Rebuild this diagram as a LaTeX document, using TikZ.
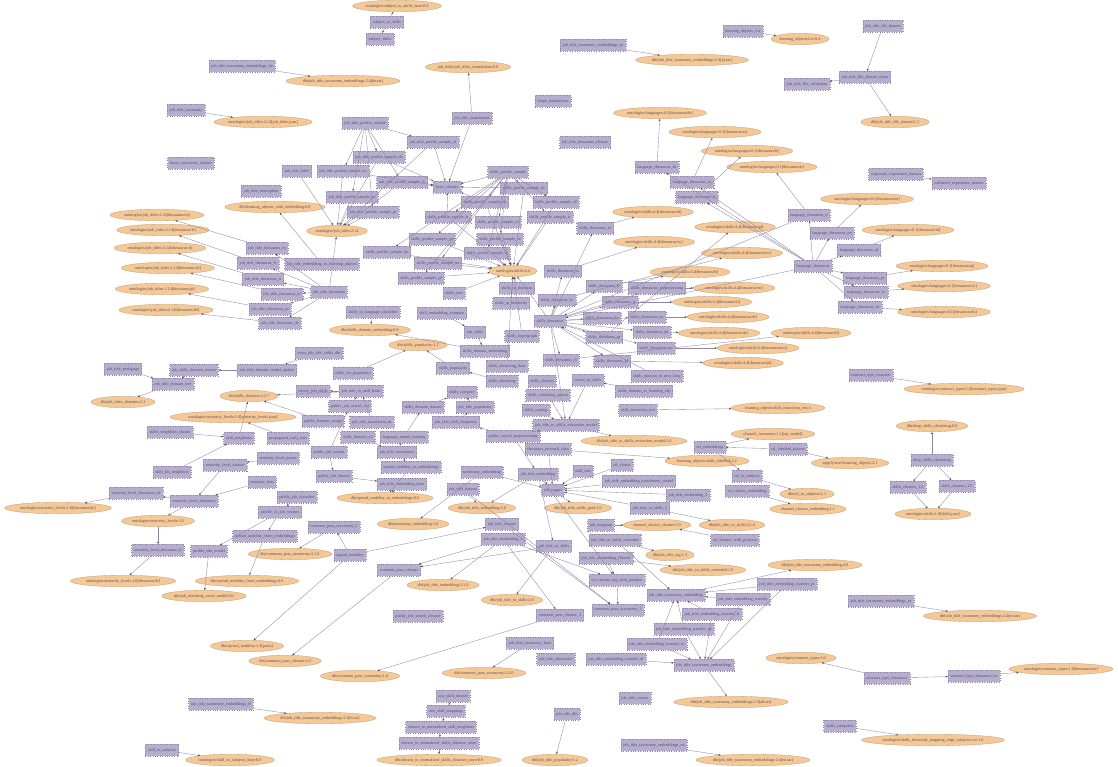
\documentclass[tikz,border=0pt]{standalone}
\usepackage{fontspec}
\setmainfont{Liberation Serif}
\usetikzlibrary{shapes.geometric,arrows.meta}
\definecolor{boxfill}{RGB}{181,174,207}
\definecolor{boxline}{RGB}{135,130,160}
\definecolor{elfill}{RGB}{245,200,150}
\definecolor{elline}{RGB}{185,155,120}
\definecolor{txt}{RGB}{85,80,95}
\definecolor{edgec}{RGB}{140,134,165}
\tikzset{
 bx/.style={rectangle,draw=boxline,dotted,line width=0.4pt,fill=boxfill,minimum height=11.5pt,inner xsep=2.4pt,inner ysep=0.5pt,text=txt,font=\fontsize{4.2}{5}\selectfont},
 el/.style={ellipse,draw=elline,line width=0.3pt,fill=elfill,minimum height=11.5pt,inner xsep=0pt,inner ysep=0pt,text=txt,font=\fontsize{4.2}{5}\selectfont},
 ed/.style={draw=edgec,line width=0.35pt,-{Stealth[length=2.4pt,width=1.9pt,color=black!70]}}
}
\begin{document}
\begin{tikzpicture}[x=1pt,y=-1pt]
\fill[white] (0,0) rectangle (1118,766);
\useasboundingbox (0,0) rectangle (1118,766);
% ---------- top ----------
\node[el] (esubjbase) at (397,6) {ontologies/subject\_to\_skills\_base:0.0};
\node[bx] (bsubjto) at (387,22) {subject\_to\_skills};
\node[bx] (bsubjsk) at (380,39) {subject\_skills};
\node[bx] (blobcsv) at (743,31) {learning\_objects\_csv};
\node[el] (elobcsv) at (800,39) {learning\_objects/csv:0.4};
\node[bx] (bjtfds) at (883,26) {job\_title\_file\_dataset};
\node[bx] (bjtfdc) at (865,77) {job\_title\_file\_dataset\_clean};
\node[bx] (bjtfval) at (807,84) {job\_title\_file\_validation};
\node[el] (ejtfds) at (895,122) {dbt/job\_title\_file\_dataset:1.1};
\node[bx] (btepde) at (242,66) {job\_title\_taxonomy\_embeddings\_de};
\node[el] (etepde) at (343,81) {dbt/job\_title\_taxonomy\_embeddings:2.4[de.tar]};
\node[bx] (bteppt) at (593,45) {job\_title\_taxonomy\_embeddings\_pt};
\node[el] (eteppt) at (692,60) {dbt/job\_title\_taxonomy\_embeddings:2.4[pt.tar]};
\node[bx] (bjttrans) at (472,118) {job\_title\_translations};
\node[el] (ejttrans) at (468,67) {job\_titles/job\_titles\_translations:0.0};
\node[bx] (bjttax) at (186,110) {job\_title\_taxonomy};
\node[el] (ejtjson) at (263,122) {ontologies/job\_titles:2.14[job\_titles.json]};
\node[bx] (bshape) at (553,101) {shape\_translations};
\node[bx] (bjtthcl) at (585,142) {job\_title\_thesaurus\_cleaner};
\node[bx] (bbsyn) at (191,163) {basic\_synonyms\_cleaner};
\node[bx] (bjtlabel) at (297,171) {job\_title\_label};
\node[bx] (bjtdesc) at (261,191) {job\_title\_description};
\node[el] (elowe) at (275,207) {dbt/learning\_objects\_with\_embedding:0.0};
% job title profile samples
\node[bx] (bjps) at (365,123) {job\_title\_profile\_sample};
\node[bx] (bjpsa) at (433,142) {job\_title\_profile\_sample\_nl};
\node[bx] (bjpsb) at (379,157) {job\_title\_profile\_sample\_de};
\node[bx] (bjpsc) at (343,171) {job\_title\_profile\_sample\_en};
\node[bx] (bjpsd) at (402,182) {job\_title\_profile\_sample\_fr};
\node[bx] (bbasic) at (447,187) {basic\_cleaner};
\node[bx] (bjpse) at (352,197) {job\_title\_profile\_sample\_es};
\node[bx] (bjpsf) at (373,212) {job\_title\_profile\_sample\_pt};
\node[el] (ejt) at (337,231) {ontologies/job\_titles:2.14};
% skills profile samples
\node[bx] (bsps) at (508,172) {skills\_profile\_sample};
\node[bx] (bspsa) at (524,188) {skills\_profile\_sample\_de};
\node[bx] (bspsb) at (485,202) {skills\_profile\_sample\_en};
\node[bx] (bspsc) at (556,202) {skills\_profile\_sample\_nl};
\node[bx] (bspsd) at (448,217) {skills\_profile\_sample\_fr};
\node[bx] (bspse) at (498,222) {skills\_profile\_sample\_es};
\node[bx] (bspsf) at (550,217) {skills\_profile\_sample\_it};
\node[bx] (bspsg) at (432,239) {skills\_profile\_sample\_pt};
\node[bx] (bspsh) at (500,239) {skills\_profile\_sample\_sv};
\node[bx] (bspsi) at (387,252) {skills\_profile\_sample\_da};
\node[bx] (bspsj) at (487,253) {skills\_profile\_sample\_fi};
\node[bx] (bspsk) at (438,263) {skills\_profile\_sample\_no};
\node[bx] (bspsl) at (421,278) {skills\_profile\_sample\_pl};
\node[el] (esk) at (513,271) {ontologies/skills:4.4};
\node[bx] (bska) at (517,288) {skills\_to\_domains};
\node[bx] (bskb) at (511,303) {skills\_to\_hierarchy};
\node[bx] (bsktree) at (454,293) {skills\_tree};
% skills thesaurus
\node[bx] (bskth) at (550,321) {skills\_thesaurus};
\node[bx] (Ba) at (595,228) {skills\_thesaurus\_nl};
\node[bx] (Bb) at (563,271) {skills\_thesaurus\_es};
\node[bx] (Bc) at (604,286) {skills\_thesaurus\_fr};
\node[bx] (Bd) at (657,288) {skills\_thesaurus\_preprocessing};
\node[bx] (Be) at (620,302) {skills\_thesaurus\_it};
\node[bx] (Bf) at (557,300) {skills\_thesaurus\_sv};
\node[bx] (Bg) at (602,318) {skills\_thesaurus\_de};
\node[bx] (Bh) at (647,317) {skills\_thesaurus\_en};
\node[bx] (Bi) at (652,332) {skills\_thesaurus\_da};
\node[bx] (Bj) at (604,337) {skills\_thesaurus\_pt};
\node[bx] (Bk) at (656,348) {skills\_thesaurus\_no};
\node[bx] (Bl) at (612,361) {skills\_thesaurus\_pl};
\node[bx] (Bm) at (561,360) {skills\_thesaurus\_fi};
\node[el] (Ea) at (653,212) {ontologies/skills:4.4[thesaurus/nl]};
\node[el] (Eb) at (735,227) {ontologies/skills:4.4[thesaurus/pt]};
\node[el] (Ec) at (654,242) {ontologies/skills:4.4[thesaurus/es]};
\node[el] (Ed) at (742,253) {ontologies/skills:4.4[thesaurus/sv]};
\node[el] (Ee) at (690,272) {ontologies/skills:4.4[thesaurus/fr]};
\node[el] (Ef) at (734,288) {ontologies/skills:4.4[thesaurus/en]};
\node[el] (Eg) at (712,302) {ontologies/skills:4.4[thesaurus/it]};
\node[el] (Eh) at (728,317) {ontologies/skills:4.4[thesaurus/de]};
\node[el] (Ei) at (719,333) {ontologies/skills:4.4[thesaurus/da]};
\node[el] (Ej) at (811,333) {ontologies/skills:4.4[thesaurus/fi]};
\node[el] (Ek) at (758,348) {ontologies/skills:4.4[thesaurus/no]};
\node[el] (El) at (743,363) {ontologies/skills:4.4[thesaurus/pl]};
% languages
\node[bx] (LH) at (813,266) {language\_thesaurus};
\node[bx] (LBa) at (657,167) {language\_thesaurus\_de};
\node[bx] (LBb) at (692,182) {language\_thesaurus\_es};
\node[bx] (LBc) at (697,197) {language\_thesaurus\_fr};
\node[bx] (LBd) at (809,215) {language\_thesaurus\_it};
\node[bx] (LBe) at (832,233) {language\_thesaurus\_en};
\node[bx] (LBf) at (859,250) {language\_thesaurus\_nl};
\node[bx] (LBg) at (865,278) {language\_thesaurus\_pt};
\node[bx] (LBh) at (866,292) {language\_thesaurus\_sv};
\node[bx] (LBi) at (860,307) {language\_thesaurus\_da};
\node[el] (LEa) at (660,113) {ontologies/languages:0.1[thesaurus/de]};
\node[el] (LEb) at (715,132) {ontologies/languages:0.1[thesaurus/es]};
\node[el] (LEc) at (747,151) {ontologies/languages:0.1[thesaurus/fr]};
\node[el] (LEd) at (772,167) {ontologies/languages:0.1[thesaurus/it]};
\node[el] (LEe) at (867,199) {ontologies/languages:0.1[thesaurus/en]};
\node[el] (LEf) at (908,230) {ontologies/languages:0.1[thesaurus/nl]};
\node[el] (LEg) at (942,266) {ontologies/languages:0.1[thesaurus/pt]};
\node[el] (LEh) at (944,286) {ontologies/languages:0.1[thesaurus/sv]};
\node[el] (LEi) at (944,312) {ontologies/languages:0.1[thesaurus/da]};
\node[bx] (bcexp) at (896,174) {corporate\_experience\_dataset};
\node[bx] (bvexp) at (959,183) {validated\_experience\_dataset};
% job title thesaurus
\node[bx] (bjtel) at (322,264) {job\_title\_embedding\_to\_learning\_objects};
\node[bx] (bjtth) at (329,292) {job\_title\_thesaurus};
\node[bx] (Ta) at (267,248) {job\_title\_thesaurus\_es};
\node[bx] (Tb) at (258,263) {job\_title\_thesaurus\_fr};
\node[bx] (Tc) at (263,279) {job\_title\_thesaurus\_it};
\node[bx] (Td) at (282,294) {job\_title\_thesaurus\_nl};
\node[bx] (Te) at (270,309) {job\_title\_thesaurus\_pt};
\node[bx] (Tf) at (280,323) {job\_title\_thesaurus\_de};
\node[el] (Ja) at (157,215) {ontologies/job\_titles:2.14[thesaurus/es]};
\node[el] (Jb) at (163,230) {ontologies/job\_titles:2.14[thesaurus/fr]};
\node[el] (Jc) at (160,248) {ontologies/job\_titles:2.14[thesaurus/it]};
\node[el] (Jd) at (168,268) {ontologies/job\_titles:2.14[thesaurus/nl]};
\node[el] (Je) at (162,289) {ontologies/job\_titles:2.14[thesaurus/pt]};
\node[el] (Jf) at (166,310) {ontologies/job\_titles:2.14[thesaurus/de]};
% centre
\node[bx] (bslc) at (373,312) {skills\_to\_language\_classifier};
\node[bx] (bsec) at (442,313) {skill\_embedding\_compute};
\node[el] (esde) at (370,330) {dbt/skills\_domain\_embedding:0.0};
\node[el] (espop) at (418,345) {dbt/skills\_popularity:1.1};
\node[bx] (bjobsk) at (475,332) {job\_skills};
\node[bx] (bskhg) at (522,336) {skills\_hypergraph};
\node[bx] (bsdemb) at (485,351) {skills\_domain\_embedding};
\node[bx] (bxjts) at (319,353) {extra\_job\_title\_skills\_dbt};
\node[bx] (bsfp) at (353,373) {skills\_for\_popularity};
\node[bx] (bspop) at (453,368) {skills\_popularity};
\node[bx] (bscla) at (507,366) {skills\_clustering\_base};
\node[bx] (bscl) at (502,381) {skills\_clustering};
\node[bx] (bsclb) at (542,381) {skills\_clusters};
\node[bx] (btjs) at (313,391) {theory\_job\_skills};
\node[bx] (bjtsl) at (361,391) {job\_title\_to\_skill\_links};
\node[bx] (bscat) at (462,392) {skills\_category};
\node[bx] (bsclc) at (548,395) {skills\_clustering\_parent};
\node[bx] (bpjsv) at (350,406) {public\_job\_search\_val};
\node[bx] (bsdd) at (423,407) {skills\_domain\_dataset};
\node[bx] (bjtpop) at (475,407) {job\_title\_popularity};
\node[bx] (bscatl) at (536,410) {skills\_catalog};
\node[bx] (bplu) at (323,421) {public\_learners\_usage};
\node[bx] (bjttdc) at (372,422) {job\_title\_translation\_dc};
\node[bx] (bjtsf) at (456,422) {job\_title\_skill\_frequency};
\node[bx] (bpee) at (288,438) {propagated\_early\_exit};
\node[bx] (bsdv) at (358,437) {skills\_domain\_v2};
\node[bx] (blmt) at (404,437) {language\_model\_training};
\node[bx] (bpsp) at (513,436) {public\_search\_preprocessing};
\node[bx] (bpjs) at (329,452) {public\_job\_search};
\node[bx] (bjtn) at (397,452) {job\_title\_normalizer};
\node[bx] (bthp) at (548,449) {thesaurus\_personal\_data};
\node[bx] (bsmte) at (411,467) {spread\_mobility\_to\_embeddings};
\node[bx] (bpjd) at (334,476) {public\_job\_dataset};
\node[bx] (btaxemb) at (482,472) {taxonomy\_embedding};
\node[bx] (bjtemb) at (538,474) {job\_title\_embedding};
\node[bx] (bjteb) at (402,484) {job\_title\_embedding\_base};
\node[bx] (bjtds) at (463,489) {job\_title\_dataset};
\node[bx] (bpjc) at (297,497) {public\_job\_classifier};
\node[el] (esmte) at (385,498) {dbt/spread\_mobility\_to\_embeddings:0.0};
\node[el] (ejte) at (482,508) {dbt/job\_title\_embedding:2.0};
% right middle
\node[bx] (bcts) at (588,380) {career\_to\_skills};
\node[bx] (bstnl) at (657,376) {skills\_domain\_to\_new\_lang};
\node[bx] (bstlo) at (644,391) {skills\_domain\_to\_learning\_obj};
\node[bx] (bske) at (638,410) {skill\_extraction\_test};
\node[el] (eske) at (778,408) {learning\_objects/skill\_extraction\_test:1};
\node[bx] (bjtsem) at (566,425) {job\_title\_to\_skills\_extraction\_model};
\node[el] (ejtsem) at (634,441) {dbt/job\_title\_to\_skills\_extraction\_model:1.0};
\node[bx] (bsslemb) at (710,447) {ssl\_embeddings};
\node[el] (echtax) at (773,434) {channel\_taxonomy:1.1[top\_model]};
\node[bx] (bssllab) at (788,449) {ssl\_labelled\_dataset};
\node[el] (elsl) at (707,461) {learning\_objects/skills\_labelled:2.2};
\node[el] (esupply) at (850,463) {supply/user/learning\_objects:2.1};
\node[bx] (bsslcl) at (622,465) {ssl\_cluster};
\node[bx] (bskhub) at (583,471) {skill\_hub};
\node[bx] (bsslsub) at (747,476) {ssl\_to\_subjects};
\node[bx] (bjteem) at (639,481) {job\_title\_embedding\_enrichment\_model};
\node[bx] (bjobtag) at (553,490) {job\_tagger};
\node[bx] (bjtex) at (688,495) {job\_title\_embedding\_2};
\node[bx] (bsslce) at (747,491) {ssl\_classes\_embedding};
\node[el] (esslsub) at (807,494) {dbt/ssl\_to\_subjects:1.1};
\node[el] (esslce) at (808,509) {channel\_classes\_embedding:1.1};
\node[bx] (bjtsx) at (650,508) {job\_title\_to\_skills\_2};
\node[el] (epool) at (578,508) {dbt/job\_title\_skills\_pool:1.0};
% left middle
\node[bx] (bjtped) at (123,369) {job\_title\_pedagogy};
\node[bx] (bjsds) at (194,370) {job\_skills\_domain\_source};
\node[bx] (bjtdmu) at (267,370) {job\_title\_domain\_model\_update};
\node[bx] (bjtdt) at (173,384) {job\_title\_domain\_tree};
\node[el] (ejtdom) at (123,402) {dbt/job\_titles\_domains:2.3};
\node[el] (esdist) at (249,396) {dbt/skills\_distance:2.2.7};
\node[el] (esenjson) at (233,417) {ontologies/seniority\_levels:1.0[seniority\_levels.json]};
\node[bx] (bsnc) at (170,432) {skills\_neighbors\_cluster};
\node[bx] (bsn) at (239,438) {skill\_neighbors};
\node[bx] (bslp) at (278,458) {seniority\_level\_parser};
\node[bx] (bsld) at (225,465) {seniority\_level\_dataset};
\node[bx] (bsln) at (172,472) {skill\_list\_neighbors};
\node[bx] (bsend) at (262,482) {seniority\_data};
\node[bx] (bsltde) at (136,493) {seniority\_level\_thesaurus\_de};
\node[bx] (bslt) at (194,501) {seniority\_level\_thesaurus};
\node[el] (esltde) at (58,508) {ontologies/seniority\_levels:1.0[thesaurus/de]};
\node[el] (esl) at (158,521) {ontologies/seniority\_levels:1.0};
\node[bx] (bsltfr) at (158,550) {seniority\_level\_thesaurus\_fr};
\node[el] (esltfr) at (123,581) {ontologies/seniority\_levels:1.0[thesaurus/fr]};
\node[bx] (bptjv) at (280,512) {profile\_to\_job\_vectors};
\node[bx] (bsmfe) at (265,536) {spread\_mobility\_from\_embeddings};
\node[bx] (bcpt) at (334,527) {common\_pass\_taxonomy\_2};
\node[el] (etax) at (413,524) {dbt/taxonomy\_embedding:3.0};
\node[bx] (bpem) at (209,551) {profile\_edu\_model};
\node[el] (ecpta) at (290,554) {dbt/common\_pass\_taxonomy:2.1.0};
\node[bx] (bsm) at (350,555) {spread\_mobility};
\node[bx] (bcpc) at (399,570) {common\_pass\_cleaner};
\node[el] (esmfe) at (247,581) {dbt/spread\_mobility\_from\_embeddings:0.0};
\node[el] (ejtea) at (443,585) {dbt/job\_title\_embedding:3.1.0};
\node[el] (ejms) at (204,596) {dbt/job\_matching\_score\_model:0.0};
\node[bx] (bpjsc) at (418,616) {public\_job\_search\_cleaner};
\node[el] (esmp) at (247,646) {dbt/spread\_mobility:1.2[posts]};
\node[el] (ecpc) at (285,661) {dbt/common\_pass\_cleaner:1.0};
\node[el] (ecptb) at (360,676) {dbt/common\_pass\_taxonomy:1.0};
% bottom middle
\node[bx] (bjtc) at (502,524) {job\_title\_cleaner};
\node[bx] (bjtea) at (503,539) {job\_title\_embedding\_1};
\node[bx] (bjmap) at (601,525) {job\_mapping};
\node[el] (echcl) at (657,525) {channel\_classes\_cleaner:1.0};
\node[el] (ejtsa) at (732,525) {dbt/job\_title\_to\_skills:2.1.0};
\node[bx] (bjts) at (554,546) {job\_title\_to\_skills};
\node[bx] (bjtse) at (615,540) {job\_title\_to\_skills\_extended};
\node[bx] (bsslwp) at (735,540) {ssl\_cleaner\_with\_position};
\node[el] (ejttag) at (670,555) {dbt/job\_title\_tag:1.3};
\node[bx] (bjtef) at (606,558) {job\_title\_embedding\_filtered};
\node[el] (ejtse) at (703,570) {dbt/job\_title\_to\_skills\_extended:1.0};
\node[el] (ejttf) at (815,565) {dbt/job\_title\_taxonomy\_embedding:4.0};
\node[bx] (bssltp) at (617,580) {ssl\_cleaner\_tag\_with\_position};
\node[bx] (bjtetpt) at (787,584) {job\_title\_embedding\_transfer\_pt};
\node[bx] (bjtte) at (676,595) {job\_title\_taxonomy\_embedding};
\node[bx] (bjtet) at (743,599) {job\_title\_embedding\_transfer};
\node[el] (ejts) at (512,600) {dbt/job\_title\_to\_skills:2.0};
\node[bx] (bcpta) at (618,610) {common\_pass\_taxonomy\_1};
\node[bx] (bcpcc) at (560,615) {common\_pass\_cleaner\_3};
\node[bx] (bjtetfr) at (712,614) {job\_title\_embedding\_transfer\_fr};
\node[bx] (bjtetde) at (684,629) {job\_title\_embedding\_transfer\_de};
\node[bx] (bjtteb) at (530,643) {job\_title\_taxonomy\_base};
\node[bx] (bjtetes) at (657,644) {job\_title\_embedding\_transfer\_es};
\node[bx] (bjtalt) at (556,659) {job\_title\_alternative};
\node[bx] (bjtetnl) at (616,659) {job\_title\_embedding\_transfer\_nl};
\node[bx] (bjttes) at (704,665) {job\_title\_taxonomy\_embeddings};
\node[el] (ect) at (801,658) {ontologies/contract\_types:1.0};
\node[el] (ecptc) at (484,673) {dbt/common\_pass\_taxonomy:2.2.0};
\node[bx] (bjtcnt) at (635,698) {job\_title\_counts};
\node[el] (ejttall) at (731,702) {dbt/job\_title\_taxonomy\_embeddings:2.4[all.tar]};
\node[bx] (brsd) at (453,696) {raw\_skill\_dataset};
\node[bx] (brsm) at (446,711) {raw\_skill\_mappings};
\node[bx] (bctnsn) at (441,727) {chosen\_to\_normalized\_skill\_neighbors};
\node[bx] (bctnsd) at (439,743) {chosen\_to\_normalized\_skills\_distance\_store};
\node[el] (ectnsd) at (439,760) {dbt/chosen\_to\_normalized\_skills\_distance\_store:0.0};
\node[bx] (bjtdbt) at (567,714) {job\_title\_dbt};
\node[el] (ejtpop) at (555,760) {dbt/job\_title\_popularity:1.2};
\node[bx] (btefr) at (221,704) {job\_title\_taxonomy\_embeddings\_fr};
\node[el] (etefr) at (320,718) {dbt/job\_title\_taxonomy\_embeddings:2.4[fr.tar]};
\node[bx] (bsts) at (162,750) {skill\_to\_subjects};
\node[el] (ests) at (230,760) {ontologies/skill\_to\_subjects\_base:0.0};
\node[bx] (bteen) at (654,745) {job\_title\_taxonomy\_embeddings\_en};
\node[el] (eteen) at (753,760) {dbt/job\_title\_taxonomy\_embeddings:2.4[en.tar]};
\node[bx] (bscats) at (840,726) {skills\_categories};
\node[el] (eshm) at (933,740) {ontologies/skills\_hierarchy\_mapping\_edge\_subjects.csv:1.0};
\node[bx] (btees) at (881,601) {job\_title\_taxonomy\_embeddings\_es};
\node[el] (etees) at (980,616) {dbt/job\_title\_taxonomy\_embeddings:2.4[es.tar]};
\node[bx] (bctt) at (887,678) {contract\_type\_thesaurus};
\node[bx] (bctten) at (974,676) {contract\_type\_thesaurus\_en};
\node[el] (ectten) at (1061,669) {ontologies/contract\_types:1.0[thesaurus/en]};
\node[bx] (bcttr) at (871,375) {contract\_type\_translate};
\node[el] (ectjson) at (964,389) {ontologies/contract\_types:1.0[contract\_types.json]};
\node[el] (edsc) at (932,426) {dbt/deep\_skills\_clustering:0.0};
\node[bx] (bdsc) at (932,460) {deep\_skills\_clustering};
\node[bx] (bsca) at (908,487) {skills\_clusters\_1.0};
\node[bx] (bscb) at (957,486) {skills\_clusters\_1.5};
\node[el] (eskjson) at (933,514) {ontologies/skills:1.0[skills.json]};
% ---------- edges ----------
\foreach \a/\b in {bsubjto/esubjbase,bsubjto/bsubjsk,blobcsv/elobcsv,bjtfds/bjtfdc,bjtfdc/bjtfval,bjtfdc/ejtfds,
 btepde/etepde,bteppt/eteppt,bjttrans/ejttrans,bjttrans/bbasic,bjttax/ejtjson,bjtel/elowe,
 bjps/bjpsa,bjps/bjpsb,bjps/bjpsc,bjps/bjpsd,bjps/bjpse,bjps/bjpsf,
 bjpsb/ejt,bjpsc/ejt,bjpsd/ejt,bjpse/ejt,bjpsf/ejt,bjpsa/ejt,bjtlabel/ejt,bjtth/ejt,
 bjpsa/bbasic,bjpsb/bbasic,bjpsd/bbasic,bjpsc/bbasic,
 bsps/bspsa,bsps/bspsb,bsps/bspsc,bsps/bspsd,bsps/bspse,bsps/bspsf,bsps/bspsg,bsps/bspsh,bsps/bspsi,bsps/bspsj,bsps/bspsk,bsps/bspsl,
 bspsa/esk,bspsb/esk,bspsc/esk,bspsd/esk,bspse/esk,bspsf/esk,bspsg/esk,bspsh/esk,bspsi/esk,bspsj/esk,bspsk/esk,bspsl/esk,
 bsps/bbasic,bspsa/bbasic,bspsb/bbasic,bspsd/bbasic,
 bska/esk,bskb/esk,bsktree/esk,bskhg/esk,bskth/esk,bscla/esk,
 bskth/Ba,bskth/Bb,bskth/Bc,bskth/Bd,bskth/Be,bskth/Bf,bskth/Bg,bskth/Bh,bskth/Bi,bskth/Bj,bskth/Bk,bskth/Bl,bskth/Bm,
 Ba/Ea,Bj/Eb,Bb/Ec,Bf/Ed,Bc/Ee,Bd/Ef,Be/Eg,Bh/Eh,Bi/Ei,Bm/Ej,Bk/Ek,Bl/El,
 LH/LBa,LH/LBb,LH/LBc,LH/LBd,LH/LBe,LH/LBf,LH/LBg,LH/LBh,LH/LBi,
 LBa/LEa,LBb/LEb,LBc/LEc,LBd/LEd,LBe/LEe,LBf/LEf,LBg/LEg,LBh/LEh,LBi/LEi,bcexp/bvexp,
 bjtth/Ta,bjtth/Tb,bjtth/Tc,bjtth/Td,bjtth/Te,bjtth/Tf,Ta/Ja,Tb/Jb,Tc/Jc,Td/Jd,Te/Je,Tf/Jf,
 bslc/esde,bsdemb/esde,bspop/espop,bsec/bjobsk,bjobsk/bsdemb,bscl/bspop,bjtsl/btjs,bpjsv/bjtsl,
 bsdd/bscat,bjtpop/bscat,bjtsf/bjtpop,blmt/bsdd,bpsp/bjtsf,bjtn/blmt,bsmte/esmte,bjteb/esmte,
 btaxemb/etax,bjtemb/ejte,bjtds/ejte,bpjs/bpjd,bpjs/bpjsv,bplu/esdist,bpjc/bptjv,bxjts/bjtdmu,
 bjtdmu/bjsds,bjsds/bjtdt,bjtped/bjtdt,bjtdt/ejtdom,bpee/esenjson,bsnc/bsn,bsln/bsn,bslp/bsld,
 bsld/bslt,bsend/bslt,bsltde/esltde,bslt/bsltde,bslt/esl,esl/bsltfr,bsltfr/esltfr,
 bptjv/bpem,bptjv/bsmfe,bpem/ejms,bsmfe/esmfe,bsm/bcpt,bcpt/ecpta,bsm/esmp,bsm/bjtc,
 bjtea/bcpc,bjts/bcpc,bcpc/ecpc,bjtea/ejtea,bjtea/bcpcc,bjts/ejts,bcpcc/ecptb,bjtteb/ecptc,
 bjmap/echcl,bsslwp/echcl,bjtsx/ejtsa,bjtse/ejttag,bjtef/ejtse,bjtse/bjtte,bjtte/ejttf,
 bjtetpt/bjtte,bjtet/bjtte,bjtetfr/bjtte,bjtetde/bjtte,bjtetes/bjtte,
 bjtetfr/bjttes,bjtetde/bjttes,bjtetes/bjttes,bjtetnl/bjttes,bjtetpt/bjttes,bjtet/bjttes,bjttes/ejttall,
 bjtea/bssltp,bjtc/bcpta,bssltp/bcpta,bjtef/bssltp,
 bteen/eteen,brsd/brsm,brsm/bctnsn,bctnsn/bctnsd,bctnsd/ectnsd,bjtdbt/ejtpop,btefr/etefr,bsts/ests,
 bscats/eshm,btees/etees,bctt/ect,bctt/bctten,bctten/ectten,bcttr/ectjson,bdsc/edsc,bdsc/bsca,bdsc/bscb,bsca/eskjson,bscb/eskjson,
 bcts/bjtsem,bjtsem/ejtsem,bske/eske,bsslemb/echtax,bssllab/bsslemb,bssllab/esupply,bthp/elsl,bsslemb/bsslsub,bsslsub/esslsub,bsslce/esslce,
 bjteem/bjobtag,bjtex/bjobtag,bjtsx/bjobtag,bskhub/bjobtag,bsslcl/bjobtag,bjobtag/epool,bjtemb/bjobtag,
 bskth/bjtsem,bsclc/bjtsem,bscatl/bjtsem,bthp/bjobtag,bpsp/bjtemb,btaxemb/bjobtag,bjtds/bcpta,bjtemb/bssltp,
 bstnl/bskth,bstlo/bcts,bjtsl/esdist,bsfp/espop,bjttdc/bjtsl,bsdv/bjtn,bjtn/bsmte,bpjd/bjteb,bsn/esdist,
 LH/bskth,LBd/bskth,bjtemb/bjts,bpsp/bjtsem}
 \draw[ed] (\a) -- (\b);
\end{tikzpicture}
\end{document}
